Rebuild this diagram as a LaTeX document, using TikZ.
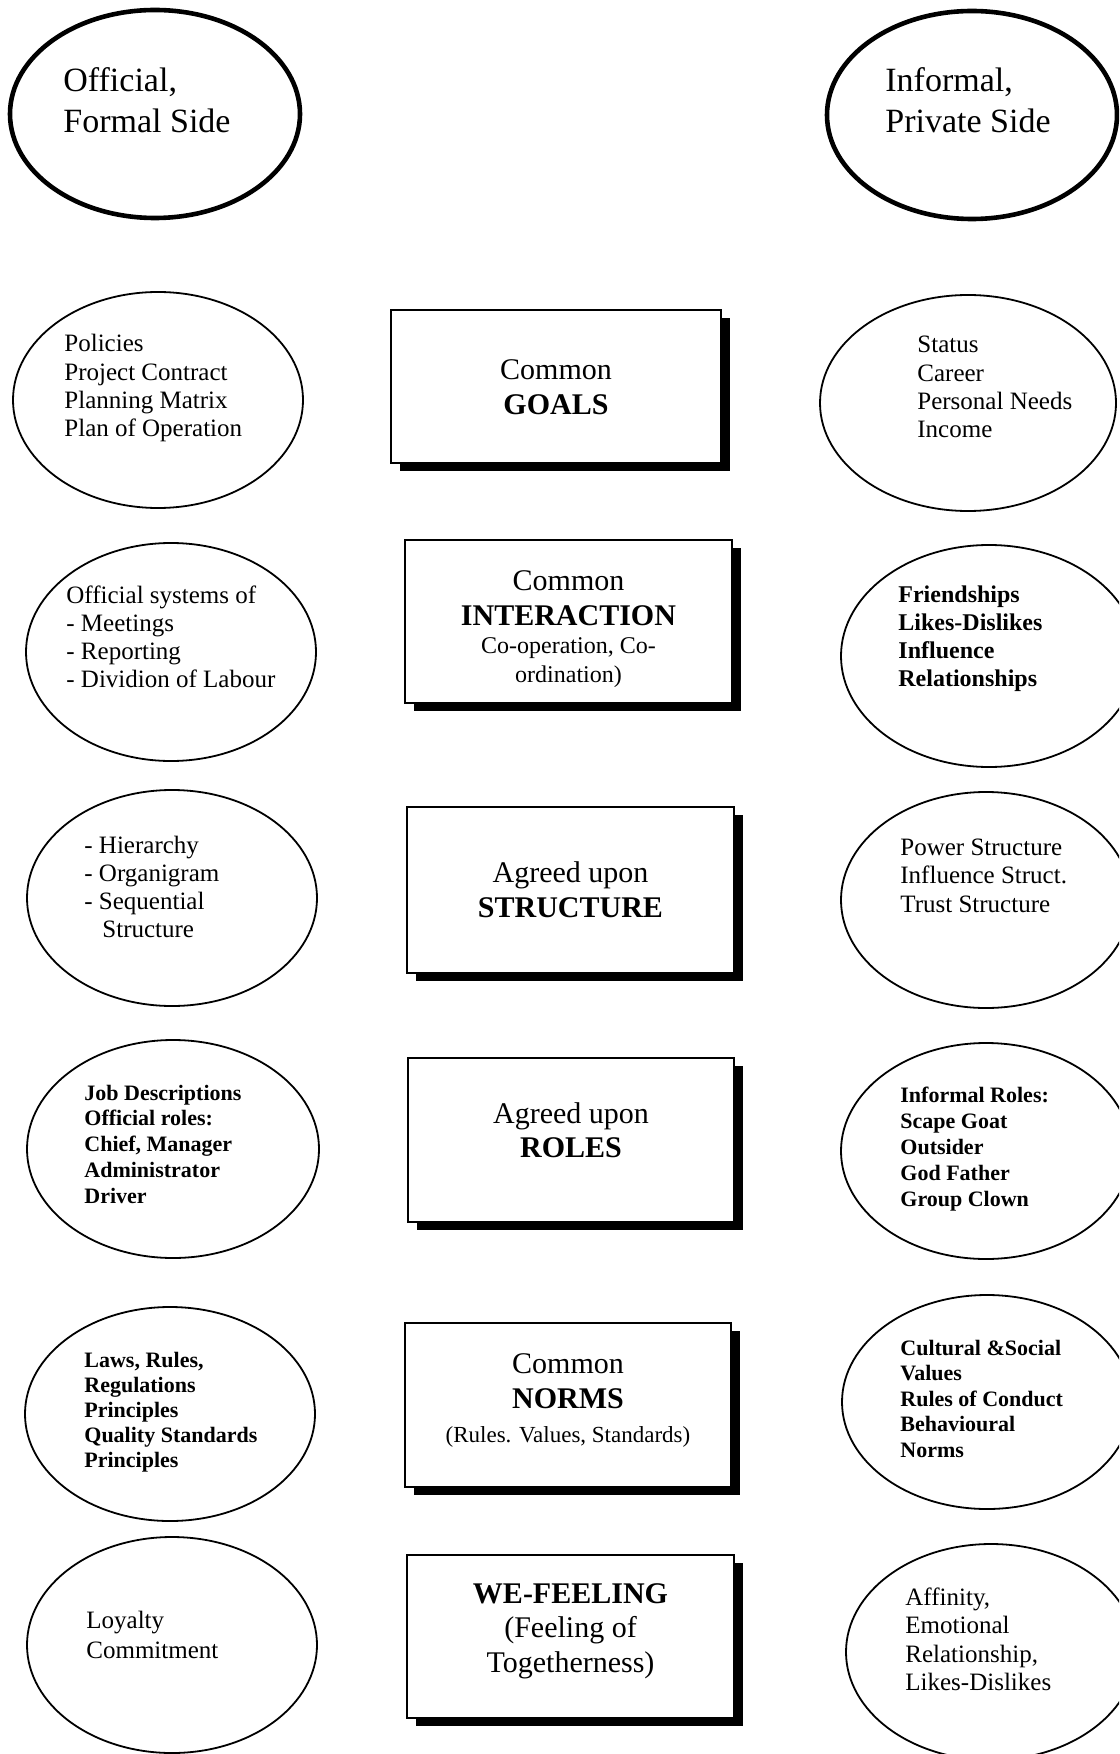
\documentclass[tikz,border=0pt]{standalone}
\usepackage{fontspec}
\setmainfont{Liberation Serif}
\usetikzlibrary{shapes.geometric,shadows}
\begin{document}
\begin{tikzpicture}[x=0.5pt,y=-0.5pt,
  sideoval/.style={ellipse,draw,line width=2.3pt,minimum width=145pt,minimum height=104pt,inner sep=0pt},
  oval/.style={ellipse,draw,line width=0.9pt,minimum width=145pt,minimum height=108pt,inner sep=0pt},
  box/.style={rectangle,draw,line width=1pt,fill=white,inner sep=0pt,
    drop shadow={shadow xshift=4.5pt,shadow yshift=-4pt,fill=black,opacity=1}},
  ltext/.style={inner sep=0pt,anchor=base west},
  ctext/.style={inner sep=0pt,anchor=base},
  head/.style={font=\fontsize{17}{20}\selectfont},
  note/.style={font=\fontsize{12.5}{14}\selectfont},
  notebf/.style={font=\fontsize{12}{14}\selectfont\bfseries},
  smallbf/.style={font=\fontsize{11}{13}\selectfont\bfseries},
  boxrm/.style={font=\fontsize{15}{17}\selectfont},
  boxbf/.style={font=\fontsize{15}{17}\selectfont\bfseries},
  boxsm/.style={font=\fontsize{12}{14}\selectfont},
]
\useasboundingbox (0,0) rectangle (1119,1754);
\clip (0,0) rectangle (1119,1754);

% ---- the two sides ----
\node[sideoval] (formal) at (155,114) {};
\node[sideoval] (informal) at (972,115) {};
\foreach \t [count=\i from 0] in {{Official,},Formal Side}
  \node[ltext,head] (formal-\i) at (63,92+41*\i) {\t};
\foreach \t [count=\i from 0] in {{Informal,},Private Side}
  \node[ltext,head] (informal-\i) at (885,92+41*\i) {\t};

% ---- goals ----
\node[oval] (pol) at (158,400) {};
\foreach \t [count=\i from 0] in {Policies,Project Contract,Planning Matrix,Plan of Operation}
  \node[ltext,note] (pol-\i) at (64,352+28.3*\i) {\t};
\node[box,minimum width=165pt,minimum height=76.5pt] (goals) at (556,386.5) {};
\node[ctext,boxrm] (goals-0) at (556,380) {Common};
\node[ctext,boxbf] (goals-1) at (556,415) {GOALS};
\node[oval,minimum width=148pt] (stat) at (968,403) {};
\foreach \t [count=\i from 0] in {Status,Career,Personal Needs,Income}
  \node[ltext,note] (stat-\i) at (917,353+28.3*\i) {\t};

% ---- interaction ----
\node[oval,minimum height=109pt] (offs) at (171,652) {};
\foreach \t [count=\i from 0] in {Official systems of,- Meetings,- Reporting,- Dividion of Labour}
  \node[ltext,note] (offs-\i) at (66,603+28.3*\i) {\t};
\node[box,minimum width=163.5pt,minimum height=81.5pt] (inter) at (568.5,621.5) {};
\node[ctext,boxrm] (inter-0) at (568.5,590) {Common};
\node[ctext,boxbf] (inter-1) at (568.5,625) {INTERACTION};
\node[ctext,boxsm] (inter-2) at (568.5,653) {Co-operation, Co-};
\node[ctext,boxsm] (inter-3) at (568.5,682) {ordination)};
\node[oval,minimum width=148pt,minimum height=111pt] (frnd) at (989,656) {};
\foreach \t [count=\i from 0] in {Friendships,Likes-Dislikes,Influence,Relationships}
  \node[ltext,notebf] (frnd-\i) at (898,602+28.3*\i) {\t};

% ---- structure ----
\node[oval] (hier) at (172,898) {};
\foreach \t [count=\i from 0] in {- Hierarchy,- Organigram,- Sequential,\hspace*{9pt}Structure}
  \node[ltext,note] (hier-\i) at (84,853+28.3*\i) {\t};
\node[box,minimum width=163.5pt,minimum height=83pt] (struct) at (570.5,890) {};
\node[ctext,boxrm] (struct-0) at (570.5,882) {Agreed upon};
\node[ctext,boxbf] (struct-1) at (570.5,917) {STRUCTURE};
\node[oval] (pow) at (986,900) {};
\foreach \t [count=\i from 0] in {Power Structure,Influence Struct.,Trust Structure}
  \node[ltext,note] (pow-\i) at (900,855+28.5*\i) {\t};

% ---- roles ----
\node[oval,minimum width=146pt,minimum height=109pt] (job) at (173,1149) {};
\foreach \t [count=\i from 0] in {Job Descriptions,Official roles:,{Chief, Manager},Administrator,Driver}
  \node[ltext,smallbf] (job-\i) at (84,1100+25.8*\i) {\t};
\node[box,minimum width=163pt,minimum height=82pt] (roles) at (571,1140) {};
\node[ctext,boxrm] (roles-0) at (571,1123) {Agreed upon};
\node[ctext,boxbf] (roles-1) at (571,1157) {ROLES};
\node[oval] (infr) at (986,1151) {};
\foreach \t [count=\i from 0] in {Informal Roles:,Scape Goat,Outsider,God Father,Group Clown}
  \node[ltext,smallbf] (infr-\i) at (900,1102+26.2*\i) {\t};

% ---- norms ----
\node[oval,minimum height=107pt] (laws) at (170,1414) {};
\foreach \t [count=\i from 0] in {{Laws, Rules,},Regulations,Principles,Quality Standards,Principles}
  \node[ltext,smallbf] (laws-\i) at (84,1367+25*\i) {\t};
\node[box,minimum width=163pt,minimum height=82pt] (norms) at (568,1405) {};
\node[ctext,boxrm] (norms-0) at (568,1373) {Common};
\node[ctext,boxbf] (norms-1) at (568,1408) {NORMS};
\node[ctext,font=\fontsize{11.5}{13}\selectfont] (norms-2) at (568,1442) {(Rules. Values, Standards)};
\node[oval,minimum height=107pt] (cult) at (987,1402) {};
\foreach \t [count=\i from 0] in {Cultural \&Social,Values,Rules of Conduct,Behavioural,Norms}
  \node[ltext,smallbf] (cult-\i) at (900,1355+25.5*\i) {\t};

% ---- we-feeling ----
\node[oval] (loy) at (172,1645) {};
\foreach \t [count=\i from 0] in {Loyalty,Commitment}
  \node[ltext,note] (loy-\i) at (86,1628+30*\i) {\t};
\node[box,minimum width=163.5pt,minimum height=81.5pt] (wefeel) at (570.5,1636.5) {};
\node[ctext,boxbf] (wefeel-0) at (570.5,1603) {WE-FEELING};
\node[ctext,boxrm] (wefeel-1) at (570.5,1637) {(Feeling of};
\node[ctext,boxrm] (wefeel-2) at (570.5,1672) {Togetherness)};
\node[oval] (aff) at (991,1652) {};
\foreach \t [count=\i from 0] in {{Affinity,},Emotional,{Relationship,},Likes-Dislikes}
  \node[ltext,note] (aff-\i) at (905,1605+28.5*\i) {\t};
\end{tikzpicture}
\end{document}
